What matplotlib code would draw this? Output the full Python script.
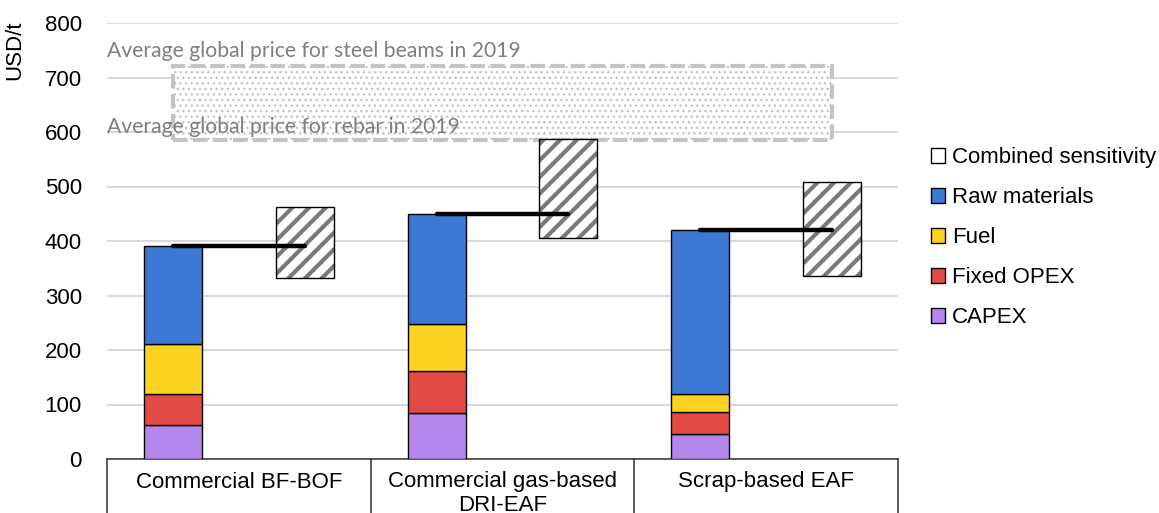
import numpy as np
import matplotlib.pyplot as plt
from matplotlib.patches import Patch, Rectangle
import matplotlib.transforms as mtransforms

# data (USD/t)
categories = ["Commercial BF-BOF", "Commercial gas-based\nDRI-EAF", "Scrap-based EAF"]
capex = [62, 84, 45]
fixed_opex = [58, 77, 41]
fuel = [91, 86, 33]
raw_materials = [180, 203, 301]
sens_low = [333, 406, 336]
sens_high = [463, 588, 508]
rebar_price = 585
beams_price = 722

colors = {"CAPEX": "#b387ec", "Fixed OPEX": "#e24a46", "Fuel": "#fdd321", "Raw materials": "#3d79d4"}

plt.rcParams['font.family'] = ['Liberation Sans', 'DejaVu Sans']
plt.rcParams['hatch.linewidth'] = 3.0

fig = plt.figure(figsize=(11.59, 5.13), dpi=100)
ax = fig.add_axes([107 / 1159, 1 - 459 / 513, 791 / 1159, 436 / 513])

x = np.arange(len(categories))
bw = 0.22
xb = x - 0.25
xs = x + 0.25

# price band
with plt.rc_context({'hatch.linewidth': 1.0}):
    band = Rectangle((xb[0], rebar_price), xs[-1] - xb[0], beams_price - rebar_price,
                     facecolor='white', edgecolor='#c4c4c4', hatch='...', linewidth=3,
                     linestyle=(0, (3.5, 1.3)), zorder=1)
    ax.add_patch(band)

# stacked bars
bottom = np.zeros(len(categories))
for name, vals in [("CAPEX", capex), ("Fixed OPEX", fixed_opex), ("Fuel", fuel), ("Raw materials", raw_materials)]:
    ax.bar(xb, vals, bw, bottom=bottom, color=colors[name], edgecolor='black', linewidth=1.0, zorder=3)
    bottom = bottom + np.array(vals)
totals = bottom

# combined sensitivity boxes
h = np.array(sens_high) - np.array(sens_low)
ax.bar(xs, h, bw, bottom=sens_low, color='white', edgecolor='#7a7a7a', hatch='//', linewidth=0, zorder=3)
ax.bar(xs, h, bw, bottom=sens_low, color='none', edgecolor='black', linewidth=1.0, zorder=4)

# total lines
for i in range(len(categories)):
    ax.plot([xb[i], xs[i]], [totals[i], totals[i]], color='black', linewidth=3.2, solid_capstyle='round', zorder=5)

ax.text(-0.5, beams_price + 8, "Average global price for steel beams in 2019", color='#7f7f7f',
        fontsize=15.2, family=['Lato', 'DejaVu Sans'], va='bottom', ha='left', zorder=6)
ax.text(-0.5, rebar_price + 5, "Average global price for rebar in 2019", color='#7f7f7f',
        fontsize=15.2, family=['Lato', 'DejaVu Sans'], va='bottom', ha='left', zorder=6)

ax.set_xlim(-0.5, 2.5)
ax.set_ylim(0, 800)
ax.set_yticks(range(0, 801, 100))
ax.yaxis.grid(True, color='#d9d9d9', linewidth=1.5)
ax.set_axisbelow(True)
for s in ['left', 'right', 'top']:
    ax.spines[s].set_visible(False)
ax.spines['bottom'].set_color('#404040')
ax.spines['bottom'].set_linewidth(1.2)
ax.tick_params(axis='y', length=0, pad=18, labelsize=16)
ax.tick_params(axis='x', length=0, pad=9, labelsize=16)
ax.set_xticks(x)
ax.set_xticklabels(categories, linespacing=1.15)

# category separators below the axis
trans = mtransforms.blended_transform_factory(ax.transData, ax.transAxes)
for xv in [-0.5, 0.5, 1.5, 2.5]:
    ax.plot([xv, xv], [0, -0.2], transform=trans, color='#404040', linewidth=1.2, clip_on=False)

fig.text(15 / 1159, 1 - 20 / 513, "USD/t", rotation=90, va='top', ha='center', fontsize=16)

handles = [Patch(facecolor='white', edgecolor='black', label='Combined sensitivity')]
handles += [Patch(facecolor=colors[n], edgecolor='black', label=n) for n in ["Raw materials", "Fuel", "Fixed OPEX", "CAPEX"]]
fig.legend(handles=handles, loc='upper left', bbox_to_anchor=(922 / 1159, 1 - 138 / 513), frameon=False,
           fontsize=16, handlelength=0.65, handleheight=0.65, handletextpad=0.3, labelspacing=0.86,
           borderaxespad=0)

fig.savefig('out.png', dpi=100)
